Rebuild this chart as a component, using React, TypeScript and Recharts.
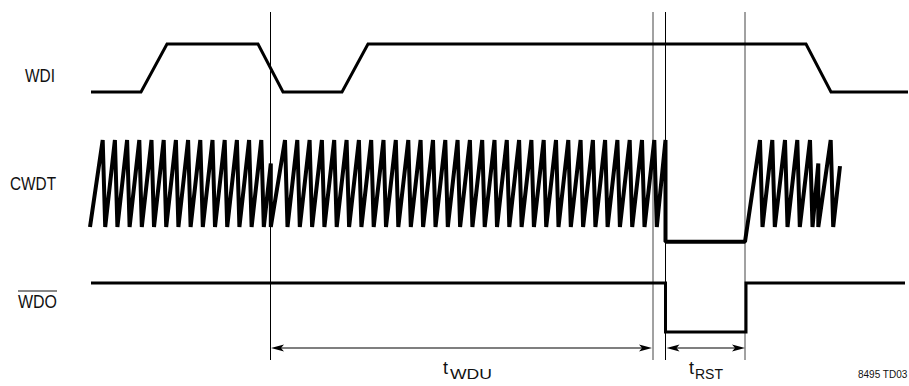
import React from 'react';
import { LineChart, Line, XAxis, YAxis, ReferenceLine } from 'recharts';

// waveform breakpoints: [time, level]  (level 1 = high, 0 = low)
const wdiPoints: [number, number][] = [
  [91, 0], [141, 0], [167, 1], [258, 1], [283, 0], [342, 0], [368, 1], [806, 1], [831, 0], [908, 0],
];

const cwdtPoints: [number, number][] = [
  [90, 0], [102.7, 1], [105.2, 0], [114.9, 1], [117.4, 0], [127.1, 1], [129.6, 0], [139.3, 1], [141.8, 0],
  [151.5, 1], [154, 0], [163.7, 1], [166.2, 0], [175.9, 1], [178.4, 0], [188.1, 1], [190.6, 0], [200.3, 1],
  [202.8, 0], [212.5, 1], [215, 0], [224.7, 1], [227.2, 0], [236.9, 1], [239.4, 0], [249.1, 1], [251.6, 0],
  [261.3, 1], [263.8, 0], [270.8, 0.73], [270.8, 0],
  [285, 1], [287.5, 0], [297.3, 1], [299.8, 0], [309.6, 1], [312.1, 0], [321.9, 1], [324.4, 0], [334.2, 1],
  [336.7, 0], [346.6, 1], [349.1, 0], [358.9, 1], [361.4, 0], [371.2, 1], [373.7, 0], [383.5, 1], [386, 0],
  [395.8, 1], [398.3, 0], [408.3, 1], [410.8, 0], [420.6, 1], [423.1, 0], [433, 1], [435.5, 0], [445.3, 1],
  [447.8, 0], [457.6, 1], [460.1, 0], [469.9, 1], [472.4, 0], [482.2, 1], [484.7, 0], [494.5, 1], [497, 0],
  [506.8, 1], [509.3, 0], [519.1, 1], [521.6, 0], [531.4, 1], [533.9, 0], [543.7, 1], [546.2, 0], [556, 1],
  [558.5, 0], [568.3, 1], [570.8, 0], [580.6, 1], [583.1, 0], [592.9, 1], [595.4, 0], [605.1, 1], [607.6, 0],
  [617.4, 1], [619.9, 0], [629.7, 1], [632.2, 0], [642, 1], [644.5, 0], [654.3, 1], [656.8, 0], [665.5, 1],
  [665.5, -0.17], [745, -0.17],
  [760, 1], [762.5, 0], [772.3, 1], [774.8, 0], [785, 1], [787.5, 0], [797.3, 1], [799.8, 0], [810, 1],
  [812.5, 0], [818.3, 0.73], [818.3, 0], [830.7, 1], [833.2, 0], [840, 0.7],
];

const wdoPoints: [number, number][] = [
  [91, 1], [665.5, 1], [665.5, 0], [746, 0], [746, 1], [905, 1],
];

// timing markers and intervals
const markers = [
  { t: 270.5, color: '#000' },
  { t: 653, color: '#444' },
  { t: 665.5, color: '#000' },
  { t: 745, color: '#444' },
];
const intervals = [
  { name: 'WDU', from: 271, to: 652 },
  { name: 'RST', from: 666.5, to: 745 },
];

const lanes = {
  wdi: { low: 92, high: 44 },
  cwdt: { low: 227, high: 140 },
  wdo: { low: 332, high: 283 },
};

const toSeries = (pts: [number, number][], lane: { low: number; high: number }) =>
  pts.map(([t, v]) => ({ t, y: lane.low - v * (lane.low - lane.high) }));

const FONT = "'Liberation Sans', Arial, sans-serif";

const Arrow = (props: any) => {
  const { x1, y1, x2 } = props;
  const y = y1;
  const L = 13;
  const H = 3.5;
  const left = Math.min(x1, x2);
  const right = Math.max(x1, x2);
  return (
    <g>
      <line x1={left + 4} y1={y} x2={right - 4} y2={y} stroke="#555" strokeWidth={1.3} />
      <polygon points={`${left},${y} ${left + L},${y - H} ${left + L - 3},${y} ${left + L},${y + H}`} fill="#000" />
      <polygon points={`${right},${y} ${right - L},${y - H} ${right - L + 3},${y} ${right - L},${y + H}`} fill="#000" />
    </g>
  );
};

const Labels = () => (
  <g fontFamily={FONT} fill="#111">
    <text x={25} y={82} fontSize={18} textLength={30} lengthAdjust="spacingAndGlyphs">WDI</text>
    <text x={10} y={190} fontSize={18} textLength={46} lengthAdjust="spacingAndGlyphs">CWDT</text>
    <text x={18} y={308} fontSize={18} textLength={39} lengthAdjust="spacingAndGlyphs">WDO</text>
    <line x1={18} y1={291} x2={57} y2={291} stroke="#111" strokeWidth={1.2} />
    <text x={443} y={374} fontSize={18}>t</text>
    <text x={450} y={379} fontSize={15} textLength={42} lengthAdjust="spacingAndGlyphs">WDU</text>
    <text x={689} y={374} fontSize={18}>t</text>
    <text x={695} y={379} fontSize={15} textLength={28} lengthAdjust="spacingAndGlyphs">RST</text>
    <text x={858} y={378} fontSize={10}>8495 TD03</text>
  </g>
);

export default function App() {
  return (
    <div style={{ position: 'absolute', left: 0, top: 0, width: 909, height: 386, background: '#fff' }}>
      <LineChart width={909} height={386} margin={{ top: 0, right: 0, bottom: 0, left: 0 }}>
        <XAxis type="number" dataKey="t" domain={[0, 909]} hide allowDataOverflow />
        <YAxis type="number" domain={[0, 386]} reversed hide allowDataOverflow />
        {markers.map((m) => (
          <ReferenceLine
            key={m.t}
            segment={[{ x: m.t, y: 12 }, { x: m.t, y: 360 }]}
            stroke={m.color}
            strokeWidth={1}
            ifOverflow="visible"
          />
        ))}
        {intervals.map((iv) => (
          <ReferenceLine
            key={iv.name}
            segment={[{ x: iv.from, y: 348 }, { x: iv.to, y: 348 }]}
            ifOverflow="visible"
            shape={Arrow}
          />
        ))}
        <Line data={toSeries(wdiPoints, lanes.wdi)} dataKey="y" type="linear" stroke="#000" strokeWidth={3} dot={false} activeDot={false} isAnimationActive={false} />
        <Line data={toSeries(cwdtPoints, lanes.cwdt)} dataKey="y" type="linear" stroke="#000" strokeWidth={4} strokeLinejoin="bevel" dot={false} activeDot={false} isAnimationActive={false} />
        <Line data={toSeries(wdoPoints, lanes.wdo)} dataKey="y" type="linear" stroke="#000" strokeWidth={3} dot={false} activeDot={false} isAnimationActive={false} />
        <Labels />
      </LineChart>
    </div>
  );
}
